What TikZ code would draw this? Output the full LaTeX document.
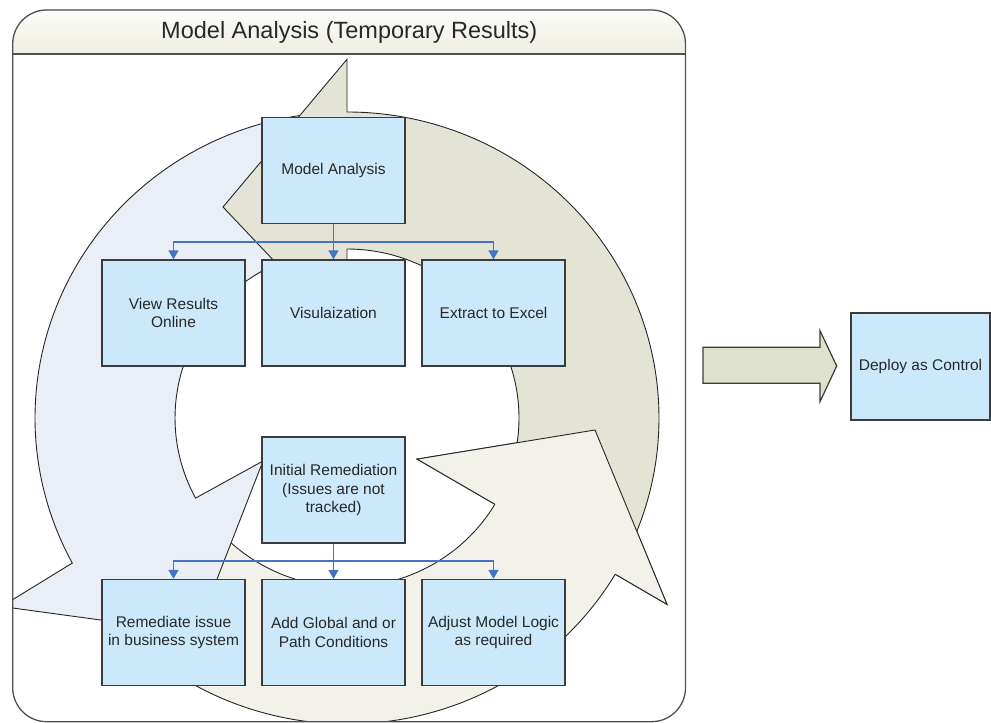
\documentclass[tikz,border=0pt]{standalone}
\usepackage{fontspec}
\setmainfont{Liberation Sans}
\usetikzlibrary{arrows.meta,calc}
\definecolor{boxfill}{RGB}{204,233,251}
\definecolor{boxline}{RGB}{60,60,60}
\definecolor{textcol}{RGB}{40,40,40}
\definecolor{connblue}{RGB}{68,114,196}
\definecolor{bluearrow}{RGB}{234,239,247}
\definecolor{beigedark}{RGB}{227,228,214}
\definecolor{beigelight}{RGB}{242,242,234}
\definecolor{rarrow}{RGB}{222,225,203}
\definecolor{titlebot}{RGB}{238,238,226}
\definecolor{contline}{RGB}{80,80,80}
\begin{document}
\begin{tikzpicture}[x=1pt,y=1pt,
  box/.style={draw=boxline, line width=1.3pt, fill=boxfill, minimum width=143pt,
    minimum height=106pt, inner sep=2pt, align=center, text=textcol,
    font=\fontsize{15.5}{18.6}\selectfont},
  conn/.style={draw=connblue, line width=1.5pt, -{Triangle[width=10pt,length=9pt]}},
  arrowline/.style={draw=black!85, line width=0.9pt, line join=miter},
  contstyle/.style={draw=contline, line width=1.3pt},
  titletext/.style={text=textcol, font=\fontsize{23.5}{28}\selectfont, inner sep=0pt},
]
\useasboundingbox (0,0) rectangle (991,723);
\fill[white] (0,0) rectangle (991,723);

\begin{scope}
  \clip[rounded corners=34pt] (12.7,1.3) rectangle (685.5,713);
  \fill[top color=white, bottom color=titlebot] (0,669) rectangle (700,723);
  \begin{scope}[shift={(347,305)}]
    % lower arrow (light beige)
    \path[arrowline, fill=beigelight]
      (-145:312 and 306) arc[start angle=-145, end angle=-30.7, x radius=312, y radius=306]
      -- (320,-186.4) -- (248,-12) -- (70.1,-41.1) -- (-30.7:172 and 169)
      arc[start angle=-30.7, end angle=-145, x radius=172, y radius=169] -- cycle;
    % left arrow (light blue)
    \path[arrowline, fill=bluearrow]
      (95:312 and 306) arc[start angle=95, end angle=208.3, x radius=312, y radius=306]
      -- (-345.5,-188.5) -- (-151,-215) -- (-84,-43) -- (208.3:172 and 169)
      arc[start angle=208.3, end angle=95, x radius=172, y radius=169] -- cycle;
    % upper arrow (dark beige)
    \path[arrowline, fill=beigedark]
      (-25:312 and 306) arc[start angle=-25, end angle=90, x radius=312, y radius=306]
      -- (0,358.7) -- (-124,211) -- (0,80) -- (0,169)
      arc[start angle=90, end angle=-25, x radius=172, y radius=169] -- cycle;
    % head of the lower arrow again, on top of the upper arrow's tail
    \fill[beigelight] (-30.7:312 and 306) -- (320,-186.4) -- (248,-12) -- (70.1,-41.1)
      -- (-30.7:172 and 169) -- cycle;
    \draw[arrowline] (-30.7:172 and 169) -- (70.1,-41.1) -- (248,-12) -- (320,-186.4)
      -- (-30.7:312 and 306);
  \end{scope}
\end{scope}
\draw[contstyle] (12.7,669) -- (685.5,669);
\draw[contstyle, rounded corners=34pt] (12.7,1.3) rectangle (685.5,713);
\node[titletext] (title) at (349.3,691) {Model Analysis (Temporary Results)};

% boxes
\node[box] (ma) at (333.5,552.4) {Model Analysis};
\node[box] (vr) at (173.5,410) {View Results\\Online};
\node[box] (vi) at (333.5,410) {Visulaization};
\node[box] (ex) at (493.5,410) {Extract to Excel};
\node[box] (ir) at (333.5,233) {Initial Remediation\\(Issues are not\\tracked)};
\node[box] (rm) at (173.5,90.5) {Remediate issue\\in business system};
\node[box] (ag) at (333.5,90.5) {Add Global and or\\Path Conditions};
\node[box] (am) at (493.5,90.5) {Adjust Model Logic\\as required};
\node[box, minimum width=139pt, minimum height=107pt] (dc) at (920.5,356.6) {Deploy as Control};

% connectors
\draw[conn] (ma.south) -- (vi.north);
\draw[conn] (ma.south) -- ++(0,-17.9) -| (vr.north);
\draw[conn] (ma.south) -- ++(0,-17.9) -| (ex.north);
\draw[conn] (ir.south) -- (ag.north);
\draw[conn] (ir.south) -- ++(0,-17.5) -| (rm.north);
\draw[conn] (ir.south) -- ++(0,-17.5) -| (am.north);

% block arrow toward deployment
\draw[draw=boxline, line width=1.2pt, line join=miter, fill=rarrow]
  (703,339.7) -- (820,339.7) -- (820,321.3) -- (836.7,357) -- (820,392.3)
  -- (820,375.7) -- (703,375.7) -- cycle;
\end{tikzpicture}
\end{document}
